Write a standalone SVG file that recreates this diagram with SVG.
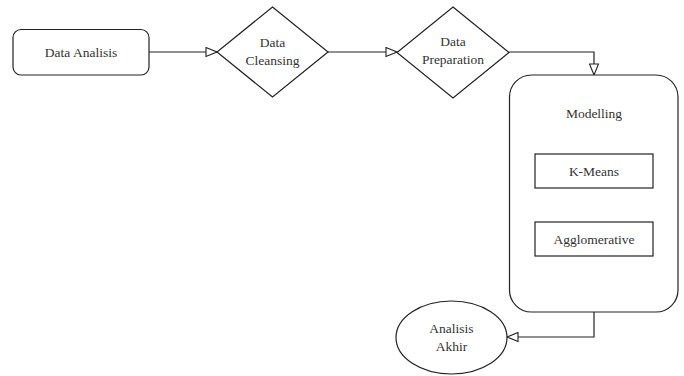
<svg xmlns="http://www.w3.org/2000/svg" width="684" height="376" viewBox="0 0 684 376">
  <defs>
    <marker id="open-arrow" markerWidth="13" markerHeight="11" refX="12" refY="5.5" orient="auto" markerUnits="userSpaceOnUse">
      <path d="M1,1 L12,5.5 L1,10 Z" fill="#fff" stroke="#222" stroke-width="1.1"/>
    </marker>
  </defs>
  <style>
    .shape { fill: #fff; stroke: #222; stroke-width: 1.2; }
    .edge { fill: none; stroke: #222; stroke-width: 1.2; marker-end: url(#open-arrow); }
    .label { font-size: 13.5px; fill: #333; text-anchor: middle; }
  </style>
  <rect width="684" height="376" fill="#fff"/>

  <g id="connectors">
    <path class="edge" d="M149,52 H217"/>
    <path class="edge" d="M328,52 H397"/>
    <path class="edge" d="M509,52 H594 V75"/>
    <path class="edge" d="M594,312 V337 H507"/>
  </g>

  <g font-family="Liberation Serif, serif">
    <g id="data-analisis">
      <rect class="shape" x="13" y="29.5" width="136" height="45.5" rx="8"/>
      <text class="label" x="81" y="57">Data Analisis</text>
    </g>

    <g id="data-cleansing">
      <polygon class="shape" points="272.5,7 328,52 272.5,97 217,52"/>
      <text class="label" x="272.5" y="47">Data</text>
      <text class="label" x="272.5" y="65">Cleansing</text>
    </g>

    <g id="data-preparation">
      <polygon class="shape" points="453,7 509,52.5 453,98 397,52.5"/>
      <text class="label" x="453" y="46">Data</text>
      <text class="label" x="453" y="64">Preparation</text>
    </g>

    <g id="modelling">
      <rect class="shape" x="509.5" y="75" width="168.5" height="237" rx="22"/>
      <text class="label" x="594" y="118">Modelling</text>
    </g>

    <g id="k-means">
      <rect class="shape" x="535" y="154" width="118" height="34"/>
      <text class="label" x="594" y="175.5">K-Means</text>
    </g>

    <g id="agglomerative">
      <rect class="shape" x="535" y="222" width="118" height="34"/>
      <text class="label" x="594" y="243.5">Agglomerative</text>
    </g>

    <g id="analisis-akhir">
      <ellipse class="shape" cx="451.5" cy="337.5" rx="55.5" ry="36.5"/>
      <text class="label" x="451.5" y="333">Analisis</text>
      <text class="label" x="451.5" y="351">Akhir</text>
    </g>
  </g>
</svg>
